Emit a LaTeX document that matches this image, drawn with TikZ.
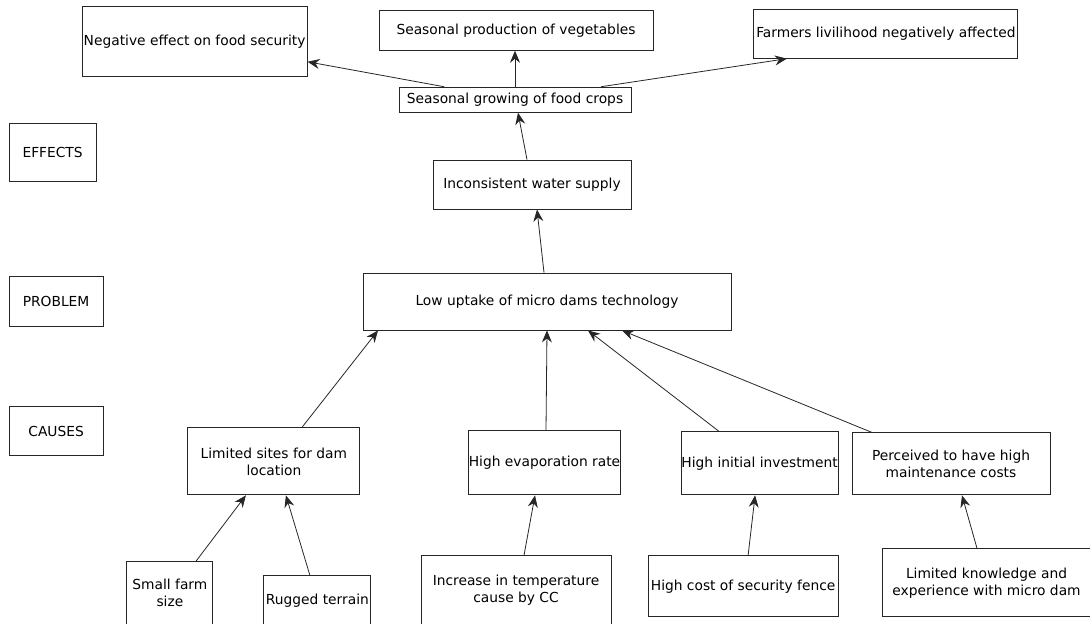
\documentclass[tikz,border=0pt]{standalone}
\usepackage{fontspec}
\setmainfont{DejaVu Sans}
\usetikzlibrary{arrows.meta,positioning}

\begin{document}
\begin{tikzpicture}[
  x=1pt, y=-1pt,
  font=\fontsize{13.8pt}{17pt}\selectfont,
  >={Stealth[length=12pt, width=10pt, inset=4pt]},
  blk/.style={rectangle, draw=black!85, line width=0.9pt, inner sep=0pt, align=center},
  link/.style={->, line width=0.8pt, draw=black!85},
]
\useasboundingbox (0,0) rectangle (1090,624);

% problem and effects column
\node[blk, minimum width=368pt, minimum height=57pt] (lowup) at (547,301.5) {Low uptake of micro dams technology};
\node[blk, minimum width=198pt, minimum height=49pt, above=63pt of lowup, xshift=-15pt] (incons) {Inconsistent water supply};
\node[blk, minimum width=232pt, minimum height=25pt, above=47pt of incons, xshift=-17pt] (seagrow) {Seasonal growing of food crops};
\node[blk, minimum width=274pt, minimum height=40pt, above=36pt of seagrow, xshift=1pt] (seaprod) {Seasonal production of vegetables};
\node[blk, minimum width=225pt, minimum height=70pt, left=91pt of seagrow, yshift=58.5pt] (negeff) {Negative effect on food security};
\node[blk, minimum width=264pt, minimum height=49pt, right=122pt of seagrow, yshift=66pt] (farmers) {Farmers livilihood negatively affected};

% causes row
\node[blk, minimum width=151pt, minimum height=64pt, below=100pt of lowup, xshift=-2.5pt] (evap) {High evaporation rate};
\node[blk, minimum width=172pt, minimum height=67pt, left=108pt of evap, yshift=1.5pt] (limsites) {Limited sites for dam\\location};
\node[blk, minimum width=157pt, minimum height=63pt, right=60pt of evap, yshift=-0.5pt] (hinit) {High initial investment};
\node[blk, minimum width=198pt, minimum height=62pt, right=13pt of hinit, yshift=-0.5pt] (perc) {Perceived to have high\\maintenance costs};

% root causes
\node[blk, minimum width=86pt, minimum height=63pt, below=66pt of limsites, xshift=-104pt] (smallfarm) {Small farm\\size};
\node[blk, minimum width=107pt, minimum height=49pt, below=80pt of limsites, xshift=43.5pt] (rugged) {Rugged terrain};
\node[blk, minimum width=190pt, minimum height=69pt, below=60pt of evap, xshift=-28.5pt] (inctemp) {Increase in temperature\\cause by CC};
\node[blk, minimum width=190pt, minimum height=61pt, below=60pt of hinit, xshift=-16.5pt] (fence) {High cost of security fence};
\node[blk, minimum width=209pt, minimum height=68pt, below=53pt of perc, xshift=35.5pt] (limknow) {Limited knowledge and\\experience with micro dam};

% level tags
\node[blk, minimum width=94pt, minimum height=50pt, left=259pt of lowup, yshift=0.5pt] (problem) {PROBLEM};
\node[blk, minimum width=87pt, minimum height=58pt, above=94pt of problem, xshift=-3.5pt] (effects) {EFFECTS};
\node[blk, minimum width=94pt, minimum height=49pt, below=80pt of problem] (causes) {CAUSES};

% effects
\draw[link] (seagrow) -- (negeff);
\draw[link] (seagrow.north) -- (seagrow.north |- seaprod.south);
\draw[link] ([xshift=86pt]seagrow.north) -- ([xshift=-99pt]farmers.south);
\draw[link] ([xshift=-5pt]incons.north) -- ([xshift=3pt]seagrow.south);
\draw[link] ([xshift=-3pt]lowup.north) -- ([xshift=5pt]incons.south);

% causes -> problem
\draw[link] ([xshift=28pt]limsites.north) -- ([xshift=-169pt]lowup.south);
\draw[link] ([xshift=1.5pt]evap.north) -- (lowup.south);
\draw[link] ([xshift=-40.5pt]hinit.north) -- ([xshift=41pt]lowup.south);
\draw[link] ([xshift=-79pt]perc.north) -- ([xshift=75pt]lowup.south);

% root causes -> causes
\draw[link] ([xshift=26pt]smallfarm.north) -- ([xshift=-28pt]limsites.south);
\draw[link] ([xshift=-7.5pt]rugged.north) -- ([xshift=12pt]limsites.south);
\draw[link] ([xshift=8pt]inctemp.north) -- ([xshift=-9.5pt]evap.south);
\draw[link] ([xshift=5pt]fence.north) -- ([xshift=-4.5pt]hinit.south);
\draw[link] ([xshift=-9.5pt]limknow.north) -- ([xshift=11pt]perc.south);

\end{tikzpicture}
\end{document}
